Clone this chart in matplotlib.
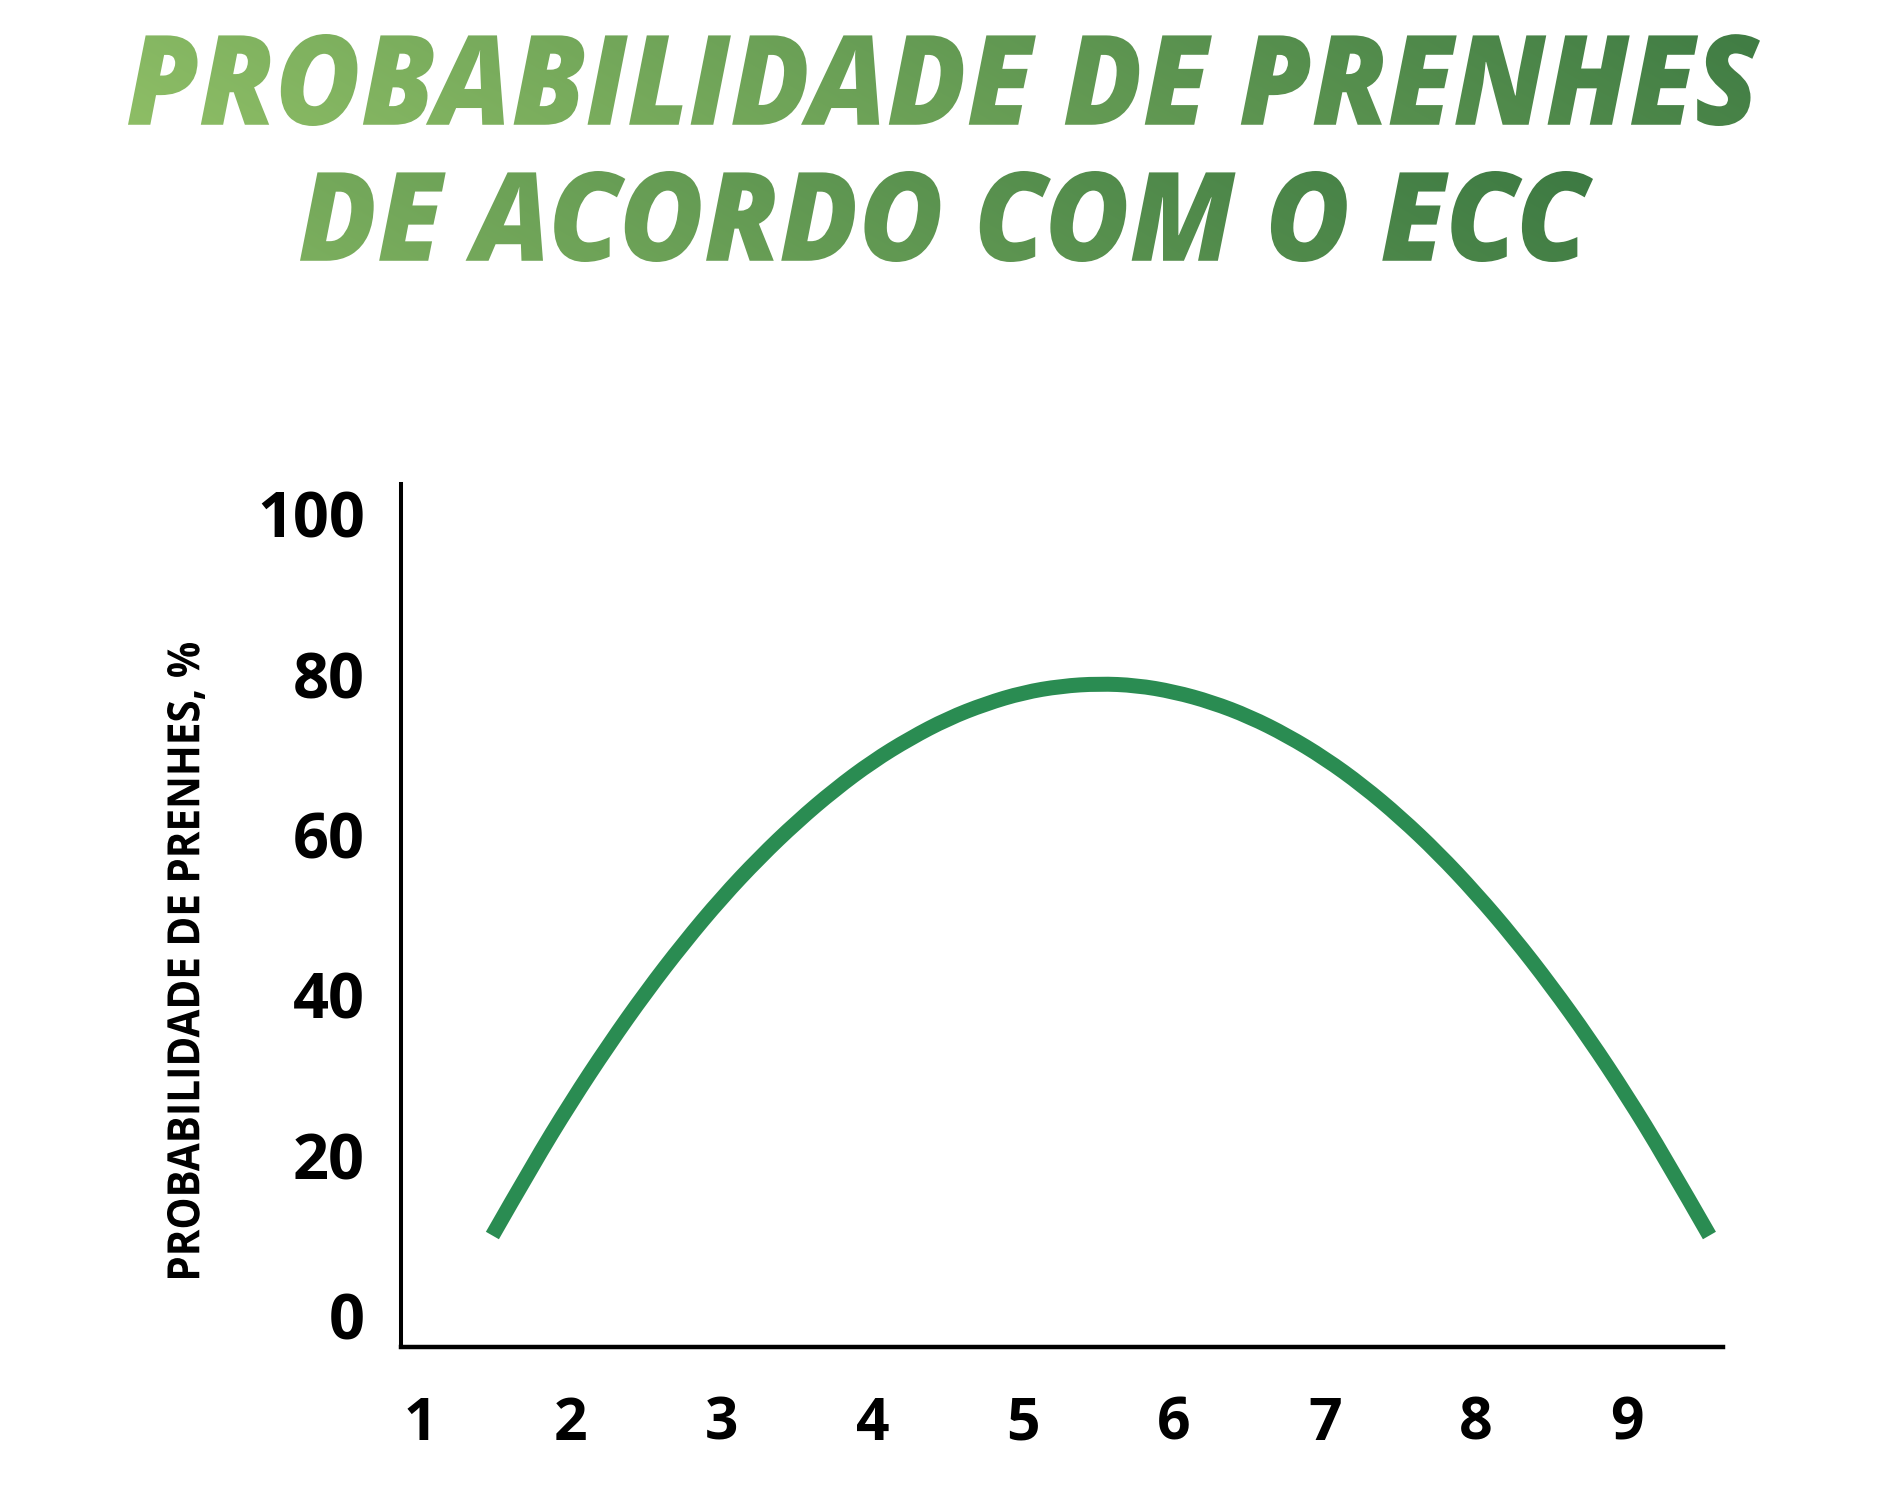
import numpy as np
import matplotlib
matplotlib.use("Agg")
import matplotlib.pyplot as plt
from matplotlib.patheffects import AbstractPathEffect
from matplotlib.transforms import Affine2D, TransformedPath
from matplotlib.path import Path
from matplotlib.patches import PathPatch
from matplotlib import font_manager as fm

# ---------------- data ----------------
ecc = [1.48, 1.75, 2.00, 2.25, 2.50, 2.75, 3.00, 3.25, 3.50, 3.75, 4.00, 4.25,
       4.50, 4.75, 5.00, 5.25, 5.50, 5.75, 6.00, 6.25, 6.50, 6.75, 7.00, 7.25,
       7.50, 7.75, 8.00, 8.25, 8.50, 8.75, 9.00, 9.25, 9.55]
prob = [10.0, 18.9, 26.6, 33.75, 40.4, 46.5, 52.1, 57.1, 61.6, 65.6, 69.1, 72.0,
        74.45, 76.3, 77.7, 78.5, 78.8, 78.6, 77.8, 76.5, 74.7, 72.35, 69.5, 66.1,
        62.15, 57.7, 52.7, 47.2, 41.15, 34.6, 27.5, 19.85, 10.0]
x_ticks = [1, 2, 3, 4, 5, 6, 7, 8, 9]
y_ticks = [0, 20, 40, 60, 80, 100]
title_lines = ["PROBABILIDADE DE PRENHES", "DE ACORDO COM O ECC"]
y_label = "PROBABILIDADE DE PRENHES, %"

# ---------------- fonts ----------------
names = {f.name for f in fm.fontManager.ttflist}
FONT = "Open Sans" if "Open Sans" in names else "DejaVu Sans"

W, H = 1889, 1503


class FitFill(AbstractPathEffect):
    """Draw the text glyphs fitted into a pixel box (top-left origin),
    optionally filled with a linear colour gradient."""

    def __init__(self, box, color=None, c0=None, c1=None, grad=None):
        super().__init__()
        self.box = box
        self.color = color
        self.c0 = None if c0 is None else np.array(matplotlib.colors.to_rgb(c0))
        self.c1 = None if c1 is None else np.array(matplotlib.colors.to_rgb(c1))
        self.grad = grad

    def draw_path(self, renderer, gc, tpath, affine, rgbFace=None):
        Hh = renderer.height
        ext = affine.transform_path(tpath).get_extents()
        x0, yt, x1, yb = self.box
        A = (Affine2D().translate(-ext.x0, -ext.y0)
             .scale((x1 - x0) / ext.width, (yb - yt) / ext.height)
             .translate(x0, Hh - yb))
        new = affine + A
        if self.c0 is None:
            gc0 = renderer.new_gc()
            gc0.copy_properties(gc)
            renderer.draw_path(gc0, tpath, new,
                               matplotlib.colors.to_rgba(self.color))
            gc0.restore()
            return
        ix0 = int(np.floor(x0)) - 2
        iy0 = int(np.floor(Hh - yb)) - 2
        w = int(np.ceil(x1)) - ix0 + 3
        h = int(np.ceil(Hh - yt)) - iy0 + 3
        xs = ix0 + np.arange(w) + 0.5
        ytop = Hh - (iy0 + (h - 1 - np.arange(h)) + 0.5)
        X, Y = np.meshgrid(xs, ytop)
        gx0, gx1, gy0, gy1, fx = self.grad
        t = fx * (X - gx0) / (gx1 - gx0) + (1 - fx) * (Y - gy0) / (gy1 - gy0)
        t = np.clip(t, 0, 1)[..., None]
        rgb = self.c0 * (1 - t) + self.c1 * t
        img = np.empty((h, w, 4), np.uint8)
        img[..., :3] = np.round(rgb * 255).astype(np.uint8)
        img[..., 3] = 255
        gc0 = renderer.new_gc()
        gc0.copy_properties(gc)
        gc0.set_clip_path(TransformedPath(tpath, new))
        renderer.draw_image(gc0, ix0, iy0, np.ascontiguousarray(img))
        gc0.restore()


fig = plt.figure(figsize=(W / 100, H / 100), dpi=100)
fig.patch.set_facecolor("white")

# ---------------- title with gradient ----------------
grad = (128, 1760, 35, 262, 0.8)
title_boxes = [(128, 34, 1760, 126), (300, 171, 1593, 262)]
title_y = [126, 262]
for line, box, yb in zip(title_lines, title_boxes, title_y):
    fig.text(0.5, 1 - yb / H, line, ha="center", va="baseline",
             fontsize=88, fontweight="heavy", style="italic", family=FONT,
             color="#5f9a50",
             path_effects=[FitFill(box, c0="#8dbd65", c1="#35733f", grad=grad)])

# ---------------- axes ----------------
ax_l, ax_r, ax_t, ax_b = 401, 1723, 484, 1347
ax = fig.add_axes([ax_l / W, 1 - ax_b / H, (ax_r - ax_l) / W, (ax_b - ax_t) / H])
ax.set_facecolor("white")

# smooth curve through the read points (quadratic B-spline style path)
pts = np.column_stack([ecc, prob])
verts = [pts[0]]
codes = [Path.MOVETO]
n = len(pts)
for i in range(1, n - 1):
    end = pts[-1] if i == n - 2 else (pts[i] + pts[i + 1]) / 2
    verts += [pts[i], end]
    codes += [Path.CURVE3, Path.CURVE3]
curve = PathPatch(Path(verts, codes), transform=ax.transData, fill=False,
                  edgecolor="#2a8c52", lw=10.8, capstyle="butt",
                  joinstyle="round")
ax.add_patch(curve)

ax.set_xlim(0.874, 9.64)
ax.set_ylim(-3.9, 103.7)
for s in ["top", "right"]:
    ax.spines[s].set_visible(False)
ax.spines["left"].set_linewidth(2.9)
ax.spines["bottom"].set_linewidth(3.2)
ax.spines["left"].set_color("black")
ax.spines["bottom"].set_color("black")
ax.spines["left"].set_capstyle("projecting")
ax.spines["bottom"].set_capstyle("projecting")

ax.set_xticks(x_ticks)
ax.set_xticklabels([str(v) for v in x_ticks])
ax.set_yticks(y_ticks)
ax.set_yticklabels([str(v) for v in y_ticks])
ax.tick_params(axis="both", length=0)
ax.tick_params(axis="x", pad=34.5)
ax.tick_params(axis="y", pad=26)
for lab in ax.get_xticklabels():
    lab.set_fontfamily(FONT)
    lab.set_fontweight("bold")
    lab.set_fontsize(42.3)
    lab.set_color("black")
for lab in ax.get_yticklabels():
    lab.set_fontfamily(FONT)
    lab.set_fontweight("bold")
    lab.set_fontsize(45.4)
    lab.set_color("black")

# ---------------- y label ----------------
fig.text(186 / W, 1 - 960 / H, y_label, rotation=90, ha="center", va="center",
         fontsize=33, fontweight="bold", family=FONT, color="black",
         path_effects=[FitFill((167, 643, 205, 1278), color="black")])

fig.savefig("out.png", dpi=100, facecolor="white")
